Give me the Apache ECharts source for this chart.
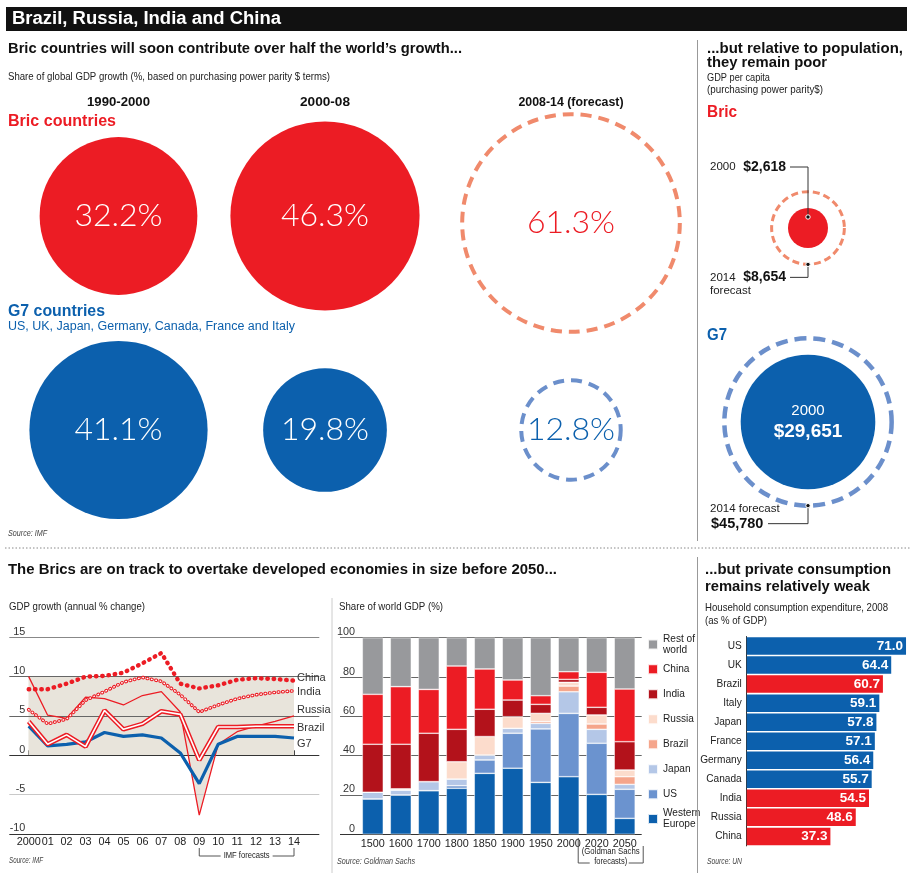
<!DOCTYPE html>
<html><head><meta charset="utf-8">
<script src="https://cdn.jsdelivr.net/npm/echarts@6/dist/echarts.min.js"></script>
<style>html,body{margin:0;padding:0;background:#fff;}#c{width:922px;height:883px;}</style>
</head><body><div id="c"></div>
<script>
// ---------------- data ----------------
const periods = ['1990-2000', '2000-08', '2008-14 (forecast)'];
const bricShare = [32.2, 46.3, 61.3];
const g7Share = [41.1, 19.8, 12.8];

const perCapitaGroups = ['Bric', 'G7'];
const perCapitaYears = ['2000', '2014'];
const perCapita2000 = [2618, 29651];
const perCapita2014 = [8654, 45780];

const growthYears = ['2000','01','02','03','04','05','06','07','08','09','10','11','12','13','14'];
const chinaGrowth  = [8.4, 8.4, 9.1, 10.0, 10.1, 10.5, 11.7, 13.0, 9.1, 8.5, 8.9, 9.6, 9.8, 9.7, 9.5];
const indiaGrowth  = [5.8, 4.0, 4.6, 7.0, 8.1, 9.3, 9.9, 9.4, 7.7, 5.5, 6.4, 7.2, 7.7, 8.0, 8.2];
const russiaGrowth = [10.0, 5.1, 4.7, 7.4, 7.2, 6.4, 7.6, 8.1, 5.5, -7.6, 1.4, 3.0, 3.7, 4.3, 5.0];
const brazilGrowth = [4.3, 1.4, 2.6, 1.1, 5.7, 3.3, 4.0, 5.6, 5.2, -0.6, 3.6, 3.6, 3.7, 3.7, 3.7];
const g7Growth     = [3.7, 1.2, 1.4, 1.7, 2.9, 2.4, 2.6, 2.2, 0.3, -3.6, 1.4, 2.4, 2.4, 2.4, 2.2];
const forecastFrom = '09';

const gdpYears = ['1500','1600','1700','1800','1850','1900','1950','2000','2020','2050'];
const westernEurope = [18.0, 20.0, 22.2, 23.4, 31.0, 33.6, 26.4, 29.3, 20.3, 8.1];
const usShare       = [0, 0, 0, 1.3, 6.8, 17.8, 27.2, 32.2, 26.0, 14.8];
const japanShare    = [3.4, 2.5, 4.6, 3.4, 2.5, 2.5, 2.8, 11.0, 7.1, 2.5];
const brazilShare   = [0, 0, 0, 0, 0, 0, 0.9, 2.9, 2.7, 3.9];
const russiaShare   = [0, 0.6, 0, 8.8, 9.4, 5.9, 4.2, 1.9, 4.6, 3.4];
const indiaShare    = [24.4, 22.7, 24.6, 16.5, 13.9, 8.5, 4.6, 1.5, 3.9, 14.4];
const chinaShare    = [25.4, 29.3, 22.3, 32.2, 20.5, 10.2, 4.4, 3.9, 17.8, 26.8];
const restShare     = [28.8, 24.9, 26.3, 14.4, 15.9, 21.5, 29.5, 17.3, 17.6, 26.1];

const consumptionCountries = ['US','UK','Brazil','Italy','Japan','France','Germany','Canada','India','Russia','China'];
const consumptionValues = [71.0, 64.4, 60.7, 59.1, 57.8, 57.1, 56.4, 55.7, 54.5, 48.6, 37.3];
const consumptionGroup = ['G7','G7','Bric','G7','G7','G7','G7','G7','Bric','Bric','Bric'];

// ---------------- styles ----------------
const RED = '#ec1c24', BLUE = '#0c60ad', SALMON = '#f08a6c', LBLUE = '#6b8fcb', BEIGE = '#e8e4db';
const ctx = document.createElement('canvas').getContext('2d');
function hasFont(f){ const s='mmmmmmiiiiWWWll10'; ctx.font='40px monospace'; const a=ctx.measureText(s).width; ctx.font="40px '"+f+"', monospace"; return ctx.measureText(s).width!==a; }
const SANS = "'Liberation Sans', Arial, sans-serif";
const HAS_NARROW = hasFont('Liberation Sans Narrow');
const NARROW = HAS_NARROW ? "'Liberation Sans Narrow', 'Liberation Sans', sans-serif" : SANS;
const NS = HAS_NARROW ? 1.02 : 0.94;   // axis / tick text
const NS2 = HAS_NARROW ? 1 : 0.88;     // tight labels (bar categories, legend)
const LIGHT = "Lato, Roboto, 'Open Sans', sans-serif";
const K_SHARE = 13.9, K_PC = 0.391;
const fmt = n => n.toLocaleString('en-US');

const stackDefs = [
  ['Western Europe', westernEurope, BLUE],
  ['US', usShare, '#6b93cf'],
  ['Japan', japanShare, '#b4c7e7'],
  ['Brazil', brazilShare, '#f5a58b'],
  ['Russia', russiaShare, '#fcdccc'],
  ['India', indiaShare, '#b3121b'],
  ['China', chinaShare, RED],
  ['Rest of world', restShare, '#98999c']
];

// circle grids
const colCenters = [118.5, 325, 571], colTops = [109, 109, 119.5], colHeights = [428, 428, 414];
const grids = [], xAxes = [], yAxes = [], series = [];
for (let i = 0; i < 3; i++) {
  grids.push({left: colCenters[i]-5, width: 10, top: colTops[i], height: colHeights[i]});
  xAxes.push({type:'category', gridIndex:i, data:[periods[i]], show:false});
  yAxes.push({type:'category', gridIndex:i, data:perCapitaGroups, inverse:true, show:false});
  const forecast = i === 2;
  series.push({
    type:'scatter', name:'share'+i, xAxisIndex:i, yAxisIndex:i, silent:true, z:2,
    symbolSize: v => 2*K_SHARE*Math.sqrt(v[2]),
    data: [bricShare[i], g7Share[i]].map((v,j) => ({
      value:[0, j, v],
      itemStyle: forecast ? {color:'rgba(255,255,255,0)', opacity:1, borderColor: j?LBLUE:SALMON, borderWidth:4, borderType:[11,7]} : {color: j?BLUE:RED, opacity:1},
      label: {color: forecast ? (j?BLUE:RED) : '#fff'}
    })),
    label:{show:true, position:'inside', formatter:p=>p.value[2].toFixed(1)+'%', fontFamily:LIGHT, fontWeight:300, fontSize:32}
  });
}
// right panel grid (3)
grids.push({left: 803, width: 10, top: 131, height: 388});
xAxes.push({type:'category', gridIndex:3, data:['pc'], show:false});
yAxes.push({type:'category', gridIndex:3, data:perCapitaGroups, inverse:true, show:false});
series.push({
  type:'scatter', name:'pc2014', xAxisIndex:3, yAxisIndex:3, silent:true, z:2,
  symbolSize: v => 2*K_PC*Math.sqrt(v[2]),
  data: perCapita2014.map((v,j)=>({value:[0,j,v], itemStyle:{color:'rgba(255,255,255,0)', opacity:1, borderColor: j?LBLUE:SALMON, borderWidth: j?4.5:3, borderType: j?[12,7]:[7,4]}}))
});
series.push({
  type:'scatter', name:'pc2000', xAxisIndex:3, yAxisIndex:3, silent:true, z:3,
  symbolSize: v => 2*K_PC*Math.sqrt(v[2]),
  data: perCapita2000.map((v,j)=>({value:[0,j,v], itemStyle:{color: j?BLUE:RED, opacity:1}, label:{show: j===1}})),
  label:{show:false, position:'inside',
    formatter: p => '{a|'+perCapitaYears[0]+'}\n{b|$'+fmt(p.value[2])+'}',
    rich:{a:{color:'#fff', fontSize:15, fontFamily:SANS, lineHeight:19}, b:{color:'#fff', fontSize:19, fontWeight:'bold', fontFamily:SANS, lineHeight:22}}}
});

// line chart: data grid (4) + background grid (5)
grids.push({left: 28.7, width: 265.3, top: 637.3, height: 196.7});
grids.push({left: 9.3, width: 310, top: 637.3, height: 196.7});
xAxes.push({type:'category', gridIndex:4, data:growthYears, boundaryGap:false,
  axisLine:{show:false}, axisTick:{show:true, inside:true, length:5, interval:0, lineStyle:{color:'#444'}},
  axisLabel:{interval:0, fontSize:11*NS+0.5, color:'#222', margin:3, fontFamily:NARROW}});
yAxes.push({type:'value', gridIndex:4, min:-10, max:15, show:false, splitLine:{show:false}});
xAxes.push({type:'value', gridIndex:5, min:0, max:1, show:false});
yAxes.push({type:'value', gridIndex:5, min:-10, max:15, interval:5, z:1.5,
  axisLine:{show:false}, axisTick:{show:false},
  axisLabel:{inside:true, align:'right', margin:16, verticalAlign:'bottom', fontSize:11.5*NS, color:'#333', fontFamily:NARROW},
  splitLine:{lineStyle:{color:['#333','#c9c9c9','#333','#666','#666','#888'], width:1}}});

function lineS(name, data, ls, z, lbl) {
  return {type:'line', name, xAxisIndex:4, yAxisIndex:4, data, symbol:'none', silent:true, z, lineStyle: ls,
    endLabel: lbl ? {show:true, formatter:lbl[0], offset:[0,lbl[1]], distance:3, color:'#333', fontSize:12.5*NS2, fontFamily:NARROW} : {show:false}};
}
series.push({type:'line', name:'band', xAxisIndex:4, yAxisIndex:4, data:russiaGrowth, symbol:'none', silent:true, z:1,
  lineStyle:{width:0, opacity:0}, areaStyle:{color:BEIGE, opacity:1},
  markArea:{silent:true, z:1, itemStyle:{color:BEIGE}, data:[[{xAxis:growthYears[0], yAxis:0},{xAxis:growthYears[growthYears.length-1], yAxis:10}]]}});
series.push(lineS('Russia growth', russiaGrowth, {color:RED, width:1.3}, 3, ['Russia', -6]));
series.push(lineS('G7 growth', g7Growth, {color:BLUE, width:3.2}, 4, ['G7', 6]));
series.push(lineS('Brazil growth', brazilGrowth, {color:RED, width:4.6}, 5, ['Brazil', 1.5]));
series.push(lineS('Brazil growth inner', brazilGrowth, {color:'#fff', width:1.6}, 6));
series.push(lineS('India growth', indiaGrowth, {color:RED, width:3.6, type:[0.5,3.9], cap:'round'}, 7, ['India', 1]));
series.push(lineS('India growth inner', indiaGrowth, {color:'#fff', width:1.5, type:[0.5,3.9], cap:'round'}, 8));
series.push(lineS('China growth', chinaGrowth, {color:RED, width:4.4, type:[0.5,5.8], cap:'round'}, 9, ['China', -3]));

// stacked bar: background grid (6) + data grid (7)
grids.push({left: 340, width: 301.7, top: 637.7, height: 196.6});
grids.push({left: 358.8, width: 279.9, top: 637.7, height: 196.6});
xAxes.push({type:'value', gridIndex:6, min:0, max:1, show:false});
yAxes.push({type:'value', gridIndex:6, min:0, max:100, interval:20,
  axisLine:{show:false}, axisTick:{show:false},
  axisLabel:{inside:true, align:'right', margin:15, verticalAlign:'bottom', fontSize:11.5*NS, color:'#333', fontFamily:NARROW},
  splitLine:{lineStyle:{color:['#333','#666','#666','#666','#666','#777'], width:1}}});
xAxes.push({type:'category', gridIndex:7, data:gdpYears, axisLine:{show:false}, axisTick:{show:false},
  axisLabel:{interval:0, fontSize:11.5*NS, color:'#222', margin:4, fontFamily:NARROW}});
yAxes.push({type:'value', gridIndex:7, min:0, max:100, show:false});
stackDefs.forEach(([name, data, color]) => series.push({
  type:'bar', name, xAxisIndex:7, yAxisIndex:7, stack:'gdp', data, barWidth:21, silent:true,
  itemStyle:{color, borderColor:'rgba(255,255,255,0.85)', borderWidth:0.6}
}));

// horizontal bars (8)
grids.push({left: 746.7, width: 168.3, top: 636.5, height: 209.4});
xAxes.push({type:'value', gridIndex:8, min:0, max:75, show:false});
yAxes.push({type:'category', gridIndex:8, data:consumptionCountries, inverse:true,
  axisLine:{show:true, lineStyle:{color:'#333'}}, axisTick:{show:false},
  axisLabel:{fontSize:11.5*NS2, color:'#222', margin:5, fontFamily:NARROW}});
series.push({type:'bar', name:'consumption', xAxisIndex:8, yAxisIndex:8, barWidth:17.5, silent:true,
  data: consumptionValues.map((v,i)=>({value:v, itemStyle:{color: consumptionGroup[i]==='Bric'?RED:BLUE}})),
  label:{show:true, position:'insideRight', distance:3, color:'#fff', fontWeight:'bold', fontSize:13.5, fontFamily:SANS, formatter:p=>p.value.toFixed(1)}});

const legendBase = {orient:'vertical', left:647, itemWidth:10, itemHeight:10, icon:'rect', padding:0, selectedMode:false,
  textStyle:{fontSize:11.5*NS2, color:'#222', fontFamily:NARROW}};
const option = {
  animation:false,
  backgroundColor:'#fff',
  grid: grids, xAxis: xAxes, yAxis: yAxes, series,
  legend: [
    Object.assign({}, legendBase, {top:628.5, data:['Rest of world'], formatter:()=>'Rest of\nworld', textStyle:Object.assign({}, legendBase.textStyle, {lineHeight:11, padding:[10,0,0,0]})}),
    Object.assign({}, legendBase, {top:662.8, itemGap:12, data:['China','India','Russia','Brazil','Japan','US'], textStyle:Object.assign({}, legendBase.textStyle, {lineHeight:13})}),
    Object.assign({}, legendBase, {top:803, data:['Western Europe'], formatter:()=>'Western\nEurope', textStyle:Object.assign({}, legendBase.textStyle, {lineHeight:11, padding:[10,0,0,0]})})
  ]
};
const chart = echarts.init(document.getElementById('c'), null, {width:922, height:883});
chart.setOption(option);

// ---------------- annotations / titles ----------------
function T(text, x, y, o) {
  o = o || {};
  const font = (o.italic?'italic ':'') + (o.weight||'normal') + ' ' + o.size + 'px ' + (o.family||SANS);
  ctx.font = font;
  const mw = ctx.measureText(text).width;
  const sx = o.w ? o.w / mw : 1;
  return {type:'text', x, y, scaleX:sx, z:20,
    style:{text, font, fill:o.color||'#222', align:o.align||'left', textAlign:o.align||'left', verticalAlign:'middle', textVerticalAlign:'middle'}};
}
function PL(points, color, w) { return {type:'polyline', z:20, shape:{points}, style:{stroke:color||'#333', lineWidth:w||1, fill:null}}; }
function LN(x1,y1,x2,y2,color,w,dash) { return {type:'line', z:20, shape:{x1,y1,x2,y2}, style:{stroke:color, lineWidth:w||1, lineDash:dash||null}}; }
function DOT(x,y) { return {type:'circle', z:21, shape:{cx:x, cy:y, r:2.2}, style:{fill:'#111', stroke:'#fff', lineWidth:1}}; }

const g = [];
g.push({type:'rect', z:19, shape:{x:6, y:7, width:901, height:24}, style:{fill:'#111'}});
g.push(T('Brazil, Russia, India and China', 12, 19.5, {size:18, weight:'bold', color:'#fff', w:269}));
g.push(T('Bric countries will soon contribute over half the world\u2019s growth...', 8, 49, {size:14.5, weight:'bold', color:'#111', w:454}));
g.push(T('Share of global GDP growth (%, based on purchasing power parity $ terms)', 8, 77, {size:10, w:322}));
const headW = [63, 50, 105];
for (let i = 0; i < 3; i++) {
  const px = chart.convertToPixel({seriesIndex:i}, [0,0]);
  g.push(T(periods[i], px[0], 103, {size:12, weight:'bold', align:'center', color:'#111', w:headW[i]}));
}
g.push(T('Bric countries', 8, 121, {size:17, weight:'bold', color:RED, w:108}));
g.push(T('G7 countries', 8, 311, {size:17, weight:'bold', color:BLUE, w:97}));
g.push(T('US, UK, Japan, Germany, Canada, France and Italy', 8, 327, {size:12.5, color:BLUE, w:287}));
g.push(T('Source: IMF', 8, 534, {size:8.5, italic:true, color:'#444', w:39}));

// right top
g.push(T('...but relative to population,', 707, 49, {size:14.5, weight:'bold', color:'#111', w:196}));
g.push(T('they remain poor', 707, 63, {size:14.5, weight:'bold', color:'#111', w:120}));
g.push(T('GDP per capita', 707, 78, {size:10, w:63}));
g.push(T('(purchasing power parity$)', 707, 90, {size:10, w:116}));
g.push(T('Bric', 707, 112, {size:16.5, weight:'bold', color:RED, w:30}));
g.push(T('G7', 707, 335, {size:16.5, weight:'bold', color:BLUE, w:20}));

const bc = chart.convertToPixel({seriesIndex:4}, [0,0]);
const gc = chart.convertToPixel({seriesIndex:4}, [0,1]);
const rB0 = K_PC*Math.sqrt(perCapita2000[0]), rB1 = K_PC*Math.sqrt(perCapita2014[0]), rG1 = K_PC*Math.sqrt(perCapita2014[1]);
// Bric 2000
let yy = bc[1] - 61;
g.push(PL([[bc[0], bc[1]-0.55*rB0],[bc[0], yy],[bc[0]-18, yy]]));
g.push(DOT(bc[0], bc[1]-0.55*rB0));
g.push(T(perCapitaYears[0], 710, yy, {size:11.5}));
g.push(T('$'+fmt(perCapita2000[0]), bc[0]-22, yy, {size:14, weight:'bold', color:'#111', align:'right'}));
// Bric 2014
yy = bc[1] + rB1 + 13;
g.push(PL([[bc[0], bc[1]+rB1],[bc[0], yy],[bc[0]-18, yy]]));
g.push(DOT(bc[0], bc[1]+rB1));
g.push(T(perCapitaYears[1], 710, yy, {size:11.5}));
g.push(T('$'+fmt(perCapita2014[0]), bc[0]-22, yy, {size:14, weight:'bold', color:'#111', align:'right'}));
g.push(T('forecast', 710, yy+13.5, {size:11.5}));
// G7 2014
yy = gc[1] + rG1 + 18;
g.push(PL([[gc[0], gc[1]+rG1],[gc[0], yy],[gc[0]-40, yy]]));
g.push(DOT(gc[0], gc[1]+rG1));
g.push(T(perCapitaYears[1]+' forecast', 710, yy-15, {size:11.5}));
g.push(T('$'+fmt(perCapita2014[1]), 711, yy, {size:14.5, weight:'bold', color:'#111'}));

// dividers
g.push(LN(697.5, 40, 697.5, 541, '#999', 1));
g.push(LN(697.5, 557, 697.5, 873, '#999', 1));
g.push(LN(332, 598, 332, 873, '#ccc', 1));
g.push(LN(5, 548, 910, 548, '#888', 1, [1.5, 2]));

// bottom titles
g.push(T('The Brics are on track to overtake developed economies in size before 2050...', 8, 570, {size:14.5, weight:'bold', color:'#111', w:549}));
g.push(T('GDP growth (annual % change)', 9, 607, {size:10.5, w:136}));
g.push(T('Share of world GDP (%)', 339, 607, {size:10.5, w:104}));
g.push(T('...but private consumption', 705, 570, {size:14.5, weight:'bold', color:'#111', w:186}));
g.push(T('remains relatively weak', 705, 587, {size:14.5, weight:'bold', color:'#111', w:165}));
g.push(T('Household consumption expenditure, 2008', 705, 608, {size:10.5, w:183}));
g.push(T('(as % of GDP)', 705, 621, {size:10.5, w:62}));
g.push(T('Source: IMF', 9, 861, {size:8.5, italic:true, color:'#444', w:34}));
g.push(T('Source: Goldman Sachs', 337, 862, {size:8.5, italic:true, color:'#444', w:78}));
g.push(T('Source: UN', 707, 862, {size:8.5, italic:true, color:'#444', w:35}));

// IMF forecasts bracket
const fi = growthYears.indexOf(forecastFrom);
const x09 = chart.convertToPixel({xAxisIndex:4}, fi), x14 = chart.convertToPixel({xAxisIndex:4}, growthYears.length-1);
const tx = (x09 + x14) / 2;
g.push(PL([[x09, 848],[x09, 856],[tx-26, 856]], '#555'));
g.push(PL([[tx+26, 856],[x14, 856],[x14, 848]], '#555'));
g.push(T('IMF forecasts', tx, 856, {size:9, align:'center', w:46}));
// Goldman Sachs forecasts bracket
const x20 = chart.convertToPixel({xAxisIndex:7}, 8), x50 = chart.convertToPixel({xAxisIndex:7}, 9);
g.push(PL([[x20-18.5, 838],[x20-18.5, 863],[x20-7, 863]], '#555'));
g.push(PL([[x50+4, 863],[x50+18.5, 863],[x50+18.5, 846]], '#555'));
g.push(T('(Goldman Sachs', (x20+x50)/2, 852, {size:9, align:'center', w:58}));
g.push(T('forecasts)', (x20+x50)/2, 861.5, {size:9, align:'center', w:33}));

chart.setOption({graphic: g});
</script>
</body></html>
